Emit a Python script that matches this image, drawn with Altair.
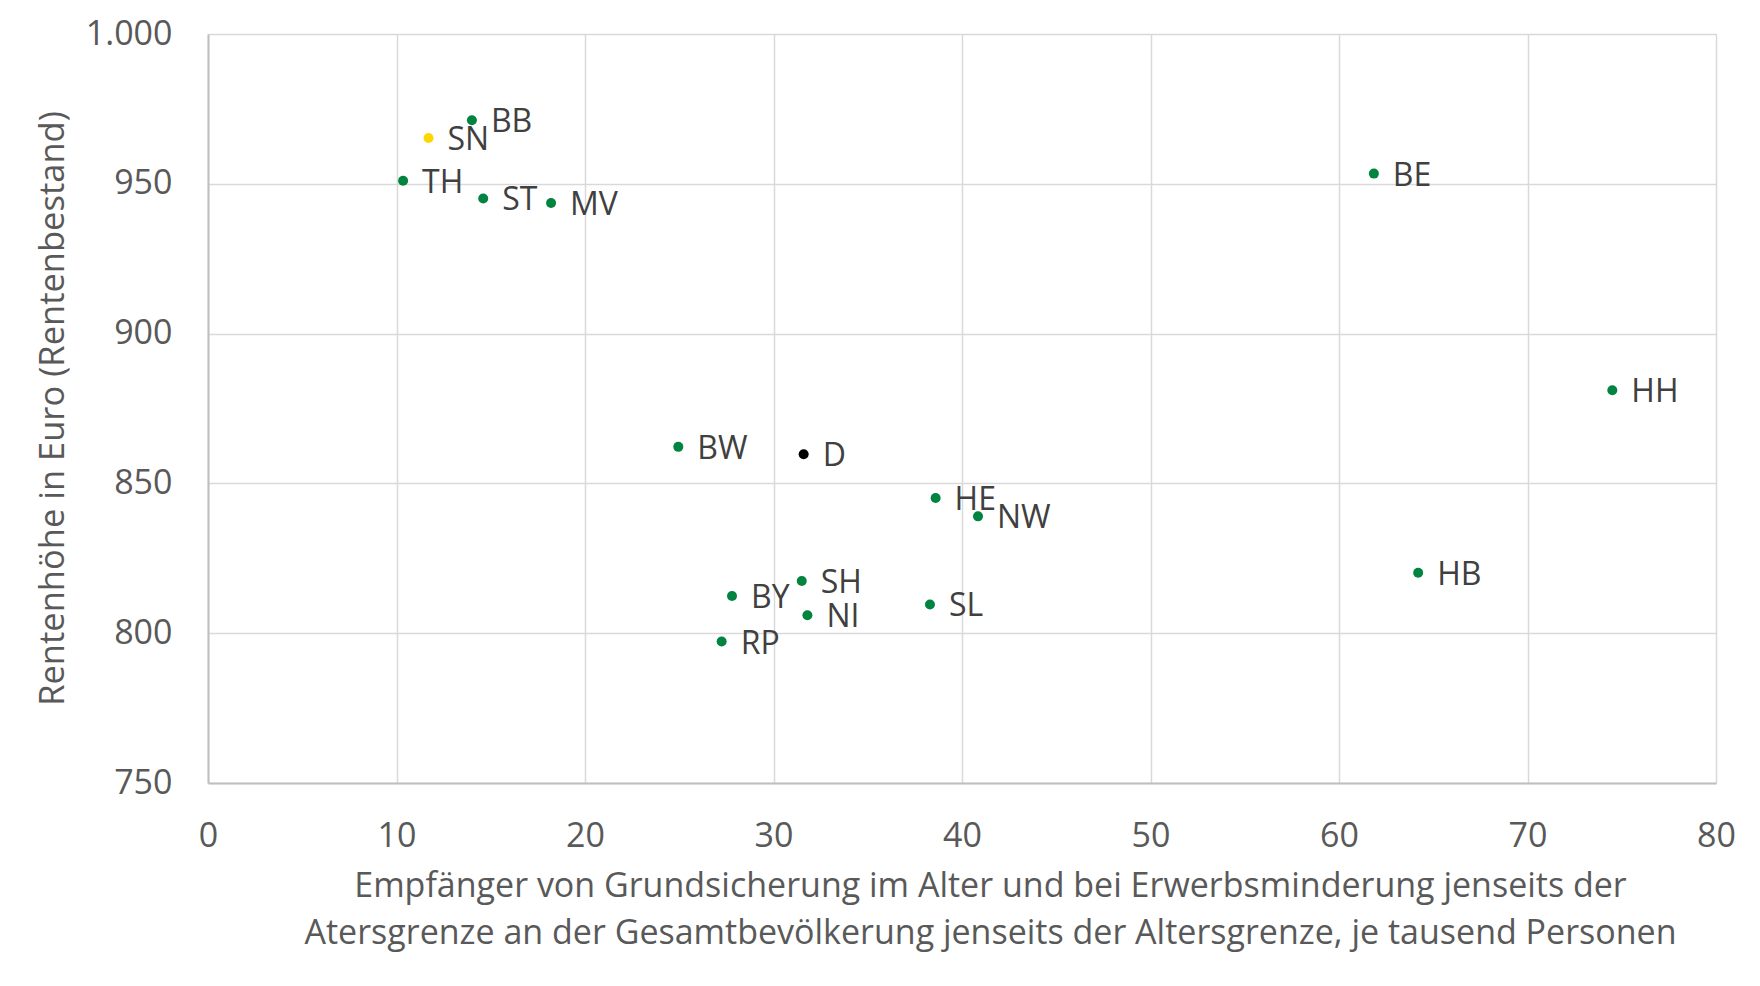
import altair as alt
import pandas as pd

laender = ["BB", "SN", "TH", "ST", "MV", "BE", "HH", "BW", "D", "HE", "NW", "HB", "SH", "BY", "NI", "SL", "RP"]
grundsicherung = [14.0, 11.7, 10.35, 14.6, 18.2, 61.85, 74.5, 24.95, 31.6, 38.6, 40.85, 64.2, 31.5, 27.8, 31.8, 38.3, 27.25]
rentenhoehe = [971.2, 965.3, 951.0, 945.1, 943.6, 953.4, 881.1, 862.2, 859.7, 845.1, 839.0, 820.2, 817.4, 812.4, 806.0, 809.6, 797.2]
gruppe = ["Land", "Sachsen", "Land", "Land", "Land", "Land", "Land", "Land", "Deutschland",
          "Land", "Land", "Land", "Land", "Land", "Land", "Land", "Land"]

x_ticks = [0, 10, 20, 30, 40, 50, 60, 70, 80]
y_ticks = [750, 800, 850, 900, 950, 1000]

x_title = ["Empfänger von Grundsicherung im Alter und bei Erwerbsminderung jenseits der",
           "Atersgrenze an der Gesamtbevölkerung jenseits der Altersgrenze, je tausend Personen"]
y_title = "Rentenhöhe in Euro (Rentenbestand)"

df = pd.DataFrame({"land": laender, "x": grundsicherung, "y": rentenhoehe, "gruppe": gruppe})

FONT = "Open Sans"

x_enc = alt.X("x:Q", scale=alt.Scale(domain=[0, 80], nice=False, zero=False),
              axis=alt.Axis(values=x_ticks, title=x_title, grid=True, ticks=False, labelFlush=False,
                            labelPadding=36, labelFontSize=34, labelFont=FONT, labelColor="#595959",
                            titleFont=FONT, titleFontSize=34, titleFontWeight="normal", titleColor="#595959",
                            titleLineHeight=47, titleBaseline="top", titleX=782, titleY=86,
                            titleAlign="center",
                            domainColor="#bfbfbf", domainWidth=2, gridColor="#d9d9d9", gridWidth=1.5))
y_enc = alt.Y("y:Q", scale=alt.Scale(domain=[750, 1000], nice=False, zero=False),
              axis=alt.Axis(values=y_ticks, title=y_title, grid=True, ticks=False, labelFlush=False,
                            labelPadding=36, labelFontSize=34, labelFont=FONT, labelColor="#595959",
                            labelExpr="replace(format(datum.value, ','), ',', '.')",
                            titleFont=FONT, titleFontSize=34.5, titleFontWeight="normal", titleColor="#595959",
                            titleAngle=270, titleBaseline="middle", titleX=-155, titleY=374,
                            titleAlign="center",
                            domainColor="#bfbfbf", domainWidth=2, gridColor="#d9d9d9", gridWidth=1.5))

points = alt.Chart(df).mark_circle(size=100, opacity=1).encode(
    x=x_enc, y=y_enc,
    color=alt.Color("gruppe:N", scale=alt.Scale(domain=["Land", "Sachsen", "Deutschland"],
                                               range=["#00843f", "#ffd700", "#000000"]), legend=None),
)

labels = alt.Chart(df).mark_text(align="left", baseline="middle", dx=19, dy=2,
                                 font=FONT, fontSize=32, color="#404040").encode(
    x="x:Q", y="y:Q", text="land:N")

chart = (points + labels).properties(
    width=1508, height=749,
    autosize=alt.AutoSizeParams(type="none"),
    padding={"left": 200, "top": 26, "right": 36, "bottom": 196},
).configure_view(stroke=None).configure(background="white")

chart.save("out.html", embed_options={"renderer": "svg", "actions": False})
